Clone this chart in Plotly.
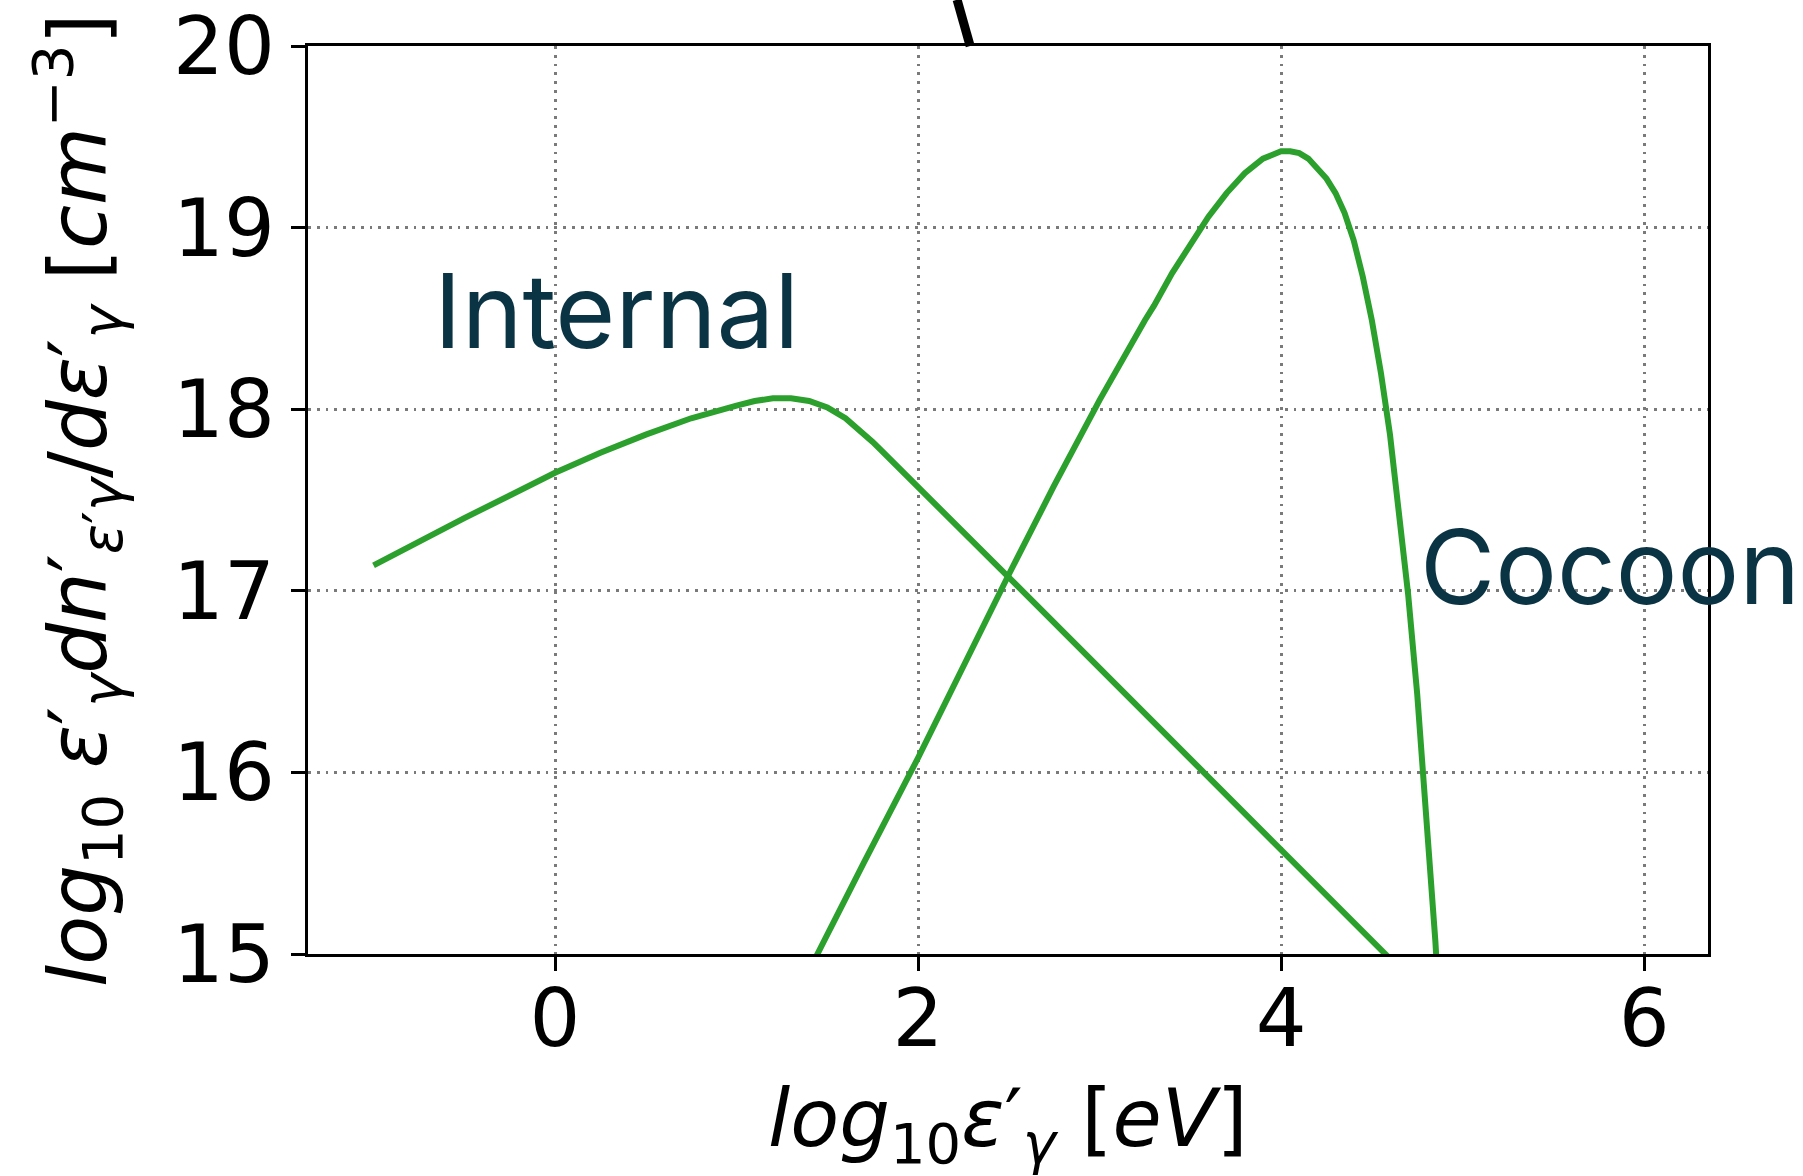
import plotly.graph_objects as go

# ---- data ----
internal_x = [-1.0, -0.5, 0.0, 0.25, 0.5, 0.75, 1.0, 1.1, 1.2, 1.3, 1.4, 1.5, 1.6, 1.65, 1.7, 1.75, 1.8,
              2.0, 2.5, 3.0, 3.5, 4.0, 4.5, 4.7]
internal_y = [17.14, 17.40, 17.65, 17.76, 17.86, 17.95, 18.02, 18.045, 18.06, 18.06, 18.045, 18.01, 17.95,
              17.91, 17.87, 17.82, 17.77, 17.574, 17.074, 16.574, 16.074, 15.574, 15.074, 14.874]

cocoon_x = [1.40, 1.45, 1.7, 2.0, 2.25, 2.5, 2.75, 3.0, 3.25, 3.3, 3.4, 3.5, 3.6, 3.7, 3.8, 3.85, 3.9,
            3.95, 4.0, 4.05, 4.1, 4.15, 4.2, 4.25, 4.3, 4.35, 4.4, 4.45, 4.5, 4.55, 4.6, 4.65, 4.7,
            4.75, 4.8, 4.85, 4.9]
cocoon_y = [14.91, 15.01, 15.50, 16.08, 16.59, 17.09, 17.58, 18.05, 18.49, 18.57, 18.75, 18.91, 19.06,
            19.19, 19.30, 19.34, 19.38, 19.40, 19.42, 19.42, 19.41, 19.38, 19.33, 19.27, 19.19, 19.08,
            18.93, 18.73, 18.49, 18.20, 17.86, 17.45, 16.98, 16.43, 15.80, 15.07, 14.22]

# stray line from the panel above (data coordinates, extends above the frame)
stray_x = [2.215, 2.287]
stray_y = [20.255, 20.0]

x_ticks = [0, 2, 4, 6]
y_ticks = [15, 16, 17, 18, 19, 20]
x_range = [-1.361, 6.352]
y_range = [15, 20]

labels = ["Internal", "Cocoon"]
label_x = [-0.68, 4.752]
label_y = [18.544, 17.134]

GREEN = "#2ca02c"
TEXT = "#0a3444"

fig = go.Figure()
fig.add_trace(go.Scatter(x=internal_x, y=internal_y, mode="lines",
                         line=dict(color=GREEN, width=6), showlegend=False))
fig.add_trace(go.Scatter(x=cocoon_x, y=cocoon_y, mode="lines",
                         line=dict(color=GREEN, width=6), showlegend=False))

def to_paper_x(v):
    return (v - x_range[0]) / (x_range[1] - x_range[0])

def to_paper_y(v):
    return (v - y_range[0]) / (y_range[1] - y_range[0])

fig.add_shape(type="line", xref="paper", yref="paper",
              x0=to_paper_x(stray_x[0]), y0=to_paper_y(stray_y[0]),
              x1=to_paper_x(stray_x[1]), y1=to_paper_y(stray_y[1]),
              line=dict(color="black", width=9))

for t, xx, yy in zip(labels, label_x, label_y):
    fig.add_annotation(x=xx, y=yy, xref="x", yref="y", text=t, showarrow=False,
                       xanchor="left", yanchor="middle",
                       font=dict(family="Inter", size=103, color=TEXT))

axis_font = dict(family="DejaVu Sans", size=80, color="black")

fig.add_annotation(xref="paper", yref="paper", x=0.5, y=-0.187,
                   text="<i>log</i><sub>10</sub><i>ε</i>′<sub><i>γ</i></sub> [<i>eV</i>]",
                   showarrow=False, xanchor="center", yanchor="middle", font=axis_font)
fig.add_annotation(xref="paper", yref="paper", x=-0.165, y=0.5, textangle=-90,
                   text="<i>log</i><sub>10</sub> <i>ε</i>′<sub><i>γ</i></sub><i>dn</i>′<sub><i>ε</i>′<i>γ</i></sub>/<i>dε</i>′<sub><i>γ</i></sub> [<i>cm</i><sup>−3</sup>]",
                   showarrow=False, xanchor="center", yanchor="middle", font=axis_font)

axis_common = dict(showline=True, linecolor="black", linewidth=3.3, mirror=True,
                   ticks="outside", ticklen=14, tickwidth=3.2, tickcolor="black",
                   showgrid=True, gridcolor="#7a7a7a", gridwidth=2.8, griddash="2.8px,6px",
                   zeroline=False, tickfont=axis_font, automargin=False)

fig.update_xaxes(range=x_range, tickvals=x_ticks, ticktext=[str(v) for v in x_ticks],
                 ticklabelstandoff=-21, **axis_common)
fig.update_yaxes(range=y_range, tickvals=y_ticks, ticktext=[str(v) for v in y_ticks], **axis_common)

fig.update_layout(width=1803, height=1176, margin=dict(l=308, r=95, t=46, b=222),
                  paper_bgcolor="white", plot_bgcolor="white")

fig.write_html("out.html")
